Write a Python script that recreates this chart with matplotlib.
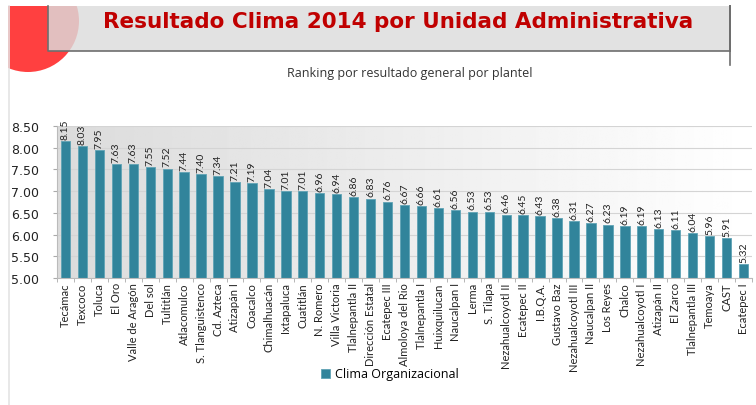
import numpy as np
import matplotlib
matplotlib.use("Agg")
import matplotlib.pyplot as plt
from matplotlib.patches import Rectangle, Circle

categories = ["Tecámac", "Texcoco", "Toluca", "El Oro", "Valle de Aragón", "Del sol",
              "Tultitlán", "Atlacomulco", "S. Tlanguistenco", "Cd. Azteca", "Atizapán I",
              "Coacalco", "Chimalhuacán", "Ixtapaluca", "Cuatitlán", "N. Romero",
              "Villa Victoria", "Tlalnepantla II", "Dirección Estatal", "Ecatepec III",
              "Almoloya del Rio", "Tlalnepantla I", "Huixquilucan", "Naucalpan I", "Lerma",
              "S. Tilapa", "Nezahualcoyotl II", "Ecatepec II", "I.B.Q.A.", "Gustavo Baz",
              "Nezahualcoyotl III", "Naucalpan II", "Los Reyes", "Chalco",
              "Nezahualcoyotl I", "Atizapán II", "El Zarco", "Tlalnepantla III",
              "Temoaya", "CAST", "Ecatepec I"]
values = [8.15, 8.03, 7.95, 7.63, 7.63, 7.55, 7.52, 7.44, 7.40, 7.34, 7.21, 7.19,
          7.04, 7.01, 7.01, 6.96, 6.94, 6.86, 6.83, 6.76, 6.67, 6.66, 6.61, 6.56,
          6.53, 6.53, 6.46, 6.45, 6.43, 6.38, 6.31, 6.27, 6.23, 6.19, 6.19, 6.13,
          6.11, 6.04, 5.96, 5.91, 5.32]
y_ticks = [5.0, 5.5, 6.0, 6.5, 7.0, 7.5, 8.0, 8.5]
series_name = "Clima Organizacional"

W, H = 756, 406
fig = plt.figure(figsize=(W / 100, H / 100), dpi=100)

## decoration axes covers the page area (x >= 8, y >= 7) so the circle is clipped there
deco = fig.add_axes([8 / W, 0, (W - 8) / W, (H - 7) / H])
deco.set_xlim(8, W)
deco.set_ylim(H, 7)
deco.axis("off")
deco.add_patch(Circle((28, 22), 51, facecolor="#ff4040", edgecolor="none", zorder=1))
fig.add_artist(plt.Line2D([8.5 / W, 8.5 / W], [0, 1 - 7 / H], color="#e4e4e4", lw=1.2))
deco.add_patch(Rectangle((48, 7), 682, 45, facecolor="#dcdcdc", alpha=0.82,
                         edgecolor="none", zorder=3))
deco.plot([48, 48, 730, 730, 730], [7, 52, 52, 7, 66], color="#6e6e6e", lw=1.2,
          zorder=3.5, clip_on=False)
deco.text(398, 22, "Resultado Clima 2014 por Unidad Administrativa", ha="center",
          va="center", fontsize=15.5, fontweight="bold", color="#c00000",
          family="DejaVu Sans", zorder=4)
deco.text(410, 74, "Ranking por resultado general por plantel", ha="center",
          va="center", fontsize=9, color="#333333", family="Open Sans", zorder=4)

## chart
ax = fig.add_axes([57 / W, 1 - 279 / H, (752 - 57) / W, 152 / H])
x = np.arange(len(values))
ax.set_xlim(-0.5, len(values) - 0.5)
ax.set_ylim(5.0, 8.5)

grad = np.linspace(0.86, 1.0, 256).reshape(1, -1)
ax.imshow(grad, cmap="gray", vmin=0, vmax=1, aspect="auto",
          extent=(-0.5, len(values) - 0.5, 5.0, 8.5), zorder=0)

for yt in y_ticks:
    ax.axhline(yt, color="#d4d4d4", lw=0.8, zorder=1)

bars = ax.bar(x, values, width=0.55, bottom=0, color="#31849b",
              edgecolor="#5fa3b5", linewidth=0.6, zorder=2, label=series_name)
for xi, v in zip(x, values):
    ax.text(xi, v + 0.05, f"{v:.2f}", rotation=90, ha="center", va="bottom",
            fontsize=7.5, color="#222222", family="Lato", clip_on=False)

ax.set_yticks(y_ticks)
ax.set_yticklabels([f"{t:.2f}" for t in y_ticks], fontsize=9, color="#222222",
                   family="DejaVu Sans")
ax.set_xticks(x)
ax.set_xticklabels(categories, rotation=90, fontsize=8, color="#222222", family="Lato")
ax.tick_params(axis="x", length=0, pad=3)
ax.set_xticks(np.arange(-0.5, len(values), 1), minor=True)
ax.tick_params(axis="x", which="minor", length=3, color="#aaaaaa")
ax.tick_params(axis="y", length=3, color="#aaaaaa", pad=10)
for side in ["top", "right"]:
    ax.spines[side].set_visible(False)
ax.spines["left"].set_color("#bbbbbb")
ax.spines["bottom"].set_color("#bbbbbb")

leg = fig.legend(handles=[bars], labels=[series_name], loc="center",
                 bbox_to_anchor=(390 / W, 1 - 375 / H), frameon=False,
                 prop={"family": "Open Sans", "size": 9}, handlelength=0.7,
                 handleheight=0.7, handletextpad=0.4)

fig.savefig("out.png", dpi=100)
